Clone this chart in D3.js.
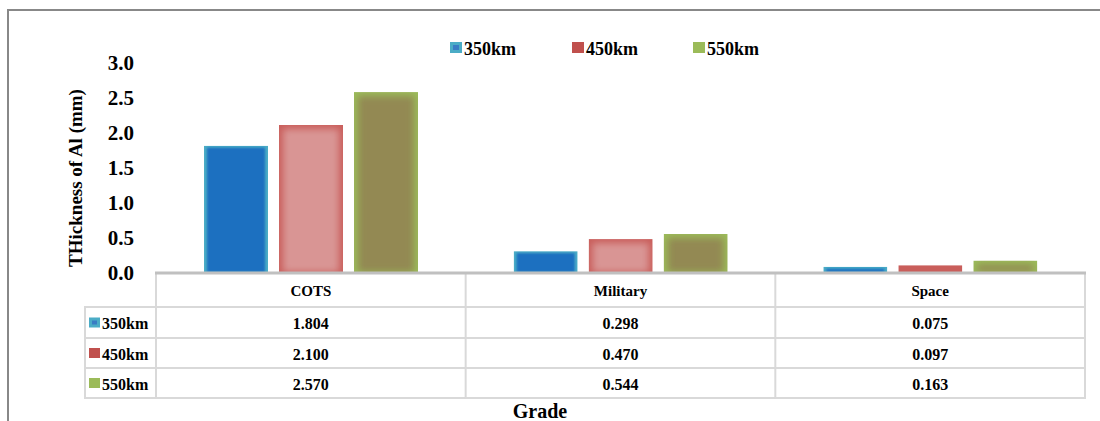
<!DOCTYPE html>
<html>
<head>
<meta charset="utf-8">
<script src="https://cdn.jsdelivr.net/npm/d3@7"></script>
<style>
  html, body { margin: 0; padding: 0; background: #fff; }
  svg { display: block; }
  svg text { font-family: "Liberation Serif", "DejaVu Serif", serif; font-weight: bold; }
</style>
</head>
<body>
<svg id="chart" width="1100" height="421" font-family="Liberation Serif, DejaVu Serif, serif" font-weight="bold"></svg>
<script>
// Aluminium shielding thickness by component grade and orbit altitude
const grades = ["COTS", "Military", "Space"];
const seriesNames = ["350km", "450km", "550km"];
const values350 = [1.804, 0.298, 0.075];
const values450 = [2.100, 0.470, 0.097];
const values550 = [2.570, 0.544, 0.163];
const yTicks = [0, 0.5, 1.0, 1.5, 2.0, 2.5, 3.0];

const seriesValues = [values350, values450, values550];
const FONT = "Liberation Serif, DejaVu Serif, serif";

// bar look: outer edge colour and a softer centre colour
const styles = {
  "350km": { edge: "#4bacc6", center: "#1a70c0", inset: [3, 2], blur: 1.2, key: "#4bacc6", keyIn: "#3a7cc4" },
  "450km": { edge: "#c95e5b", center: "#d99594", inset: [4, 4], blur: 3.5, key: "#c0504d" },
  "550km": { edge: "#9bbb59", center: "#938953", inset: [4, 4], blur: 3.5, key: "#9bbb59" }
};

const svg = d3.select("#chart");
const defs = svg.append("defs");

// frame
svg.append("line").attr("x1", 7).attr("x2", 1100).attr("y1", 10).attr("y2", 10)
  .attr("stroke", "#888").attr("stroke-width", 2);
svg.append("line").attr("x1", 8).attr("x2", 8).attr("y1", 9).attr("y2", 421)
  .attr("stroke", "#888").attr("stroke-width", 2);

const x0 = d3.scaleBand().domain(grades).range([156, 1085]);
const x1 = d3.scaleBand().domain(seriesNames).range([48, 262]).paddingInner(11 / 75);
const y = d3.scaleLinear().domain([0, 3]).range([272, 62]);

// y tick labels (no axis line)
const yAxis = d3.axisLeft(y).tickValues(yTicks).tickFormat(d3.format(".1f")).tickSize(0).tickPadding(0);
const gy = svg.append("g").attr("transform", "translate(134,0)").call(yAxis)
  .attr("font-family", FONT).attr("font-weight", "bold");
gy.select(".domain").remove();
gy.selectAll("text").attr("font-size", 21).attr("fill", "#000").attr("dy", "0.35em");

// y title
svg.append("text").attr("transform", "translate(82,178) rotate(-90)")
  .attr("text-anchor", "middle").attr("font-size", 19).text("THickness of Al (mm)");

// bars
seriesNames.forEach((s, i) => {
  const f = defs.append("filter").attr("id", "blur" + i)
    .attr("x", "-50%").attr("y", "-50%").attr("width", "200%").attr("height", "200%");
  f.append("feGaussianBlur").attr("stdDeviation", styles[s].blur);
});

const barData = [];
grades.forEach((g, gi) => {
  seriesNames.forEach((s, si) => {
    barData.push({ grade: g, series: s, si, value: seriesValues[si][gi] });
  });
});

const bars = svg.append("g").selectAll("g.bar").data(barData).join("g").attr("class", "bar");
bars.each(function (d, i) {
  const g = d3.select(this);
  const st = styles[d.series];
  const bx = x0(d.grade) + x1(d.series);
  const bw = x1.bandwidth();
  const by = y(d.value);
  const bh = y(0) - by;
  const cid = "clip" + i;
  defs.append("clipPath").attr("id", cid).append("rect")
    .attr("x", bx).attr("y", by).attr("width", bw).attr("height", bh);
  const inner = g.append("g").attr("clip-path", `url(#${cid})`);
  inner.append("rect").attr("x", bx).attr("y", by).attr("width", bw).attr("height", bh).attr("fill", st.edge);
  const ix = st.inset[0], iy = st.inset[1];
  if (bh > iy * 2 + 1) {
    inner.append("rect").attr("x", bx + ix).attr("y", by + iy)
      .attr("width", Math.max(0, bw - 2 * ix)).attr("height", Math.max(0, bh - iy))
      .attr("fill", st.center).attr("filter", `url(#blur${d.si})`);
  }
});

// top legend
const legendX = [450, 572, 693];
const legend = svg.append("g").selectAll("g").data(seriesNames).join("g")
  .attr("transform", (d, i) => `translate(${legendX[i]},42)`);
legend.append("rect").attr("width", 12).attr("height", 11).attr("fill", d => styles[d].key);
legend.filter(d => styles[d].keyIn).append("rect").attr("x", 3).attr("y", 3).attr("width", 6).attr("height", 5)
  .attr("fill", d => styles[d].keyIn);
legend.append("text").attr("x", 14).attr("y", 13).attr("font-size", 18).text(d => d);

// data table under the plot
const rowEdges = [273, 307, 338, 368, 398];
const tableLeft = 85, tableRight = x0.range()[1];
const colEdges = grades.map(g => x0(g)).concat([tableRight]);
const tbl = svg.append("g");
const lineColor = "#d9d9d9";

// horizontal rules
rowEdges.slice(1).forEach(ry => {
  tbl.append("line").attr("x1", tableLeft).attr("x2", tableRight).attr("y1", ry).attr("y2", ry)
    .attr("stroke", lineColor).attr("stroke-width", 2);
});
// vertical rules
colEdges.forEach(cx => {
  tbl.append("line").attr("x1", cx).attr("x2", cx)
    .attr("y1", rowEdges[0]).attr("y2", rowEdges[4] + 1)
    .attr("stroke", lineColor).attr("stroke-width", 2);
});
tbl.append("line").attr("x1", tableLeft).attr("x2", tableLeft).attr("y1", rowEdges[1] - 1).attr("y2", rowEdges[4] + 1)
  .attr("stroke", lineColor).attr("stroke-width", 2);

// category axis line along the top of the table
svg.append("line").attr("x1", x0.range()[0] - 1).attr("x2", tableRight + 1).attr("y1", 273).attr("y2", 273)
  .attr("stroke", "#c0c0c0").attr("stroke-width", 3);

// header row
tbl.selectAll("text.hdr").data(grades).join("text").attr("class", "hdr")
  .attr("x", d => x0(d) + x0.bandwidth() / 2).attr("y", (rowEdges[0] + rowEdges[1]) / 2 + 1)
  .attr("dy", "0.35em").attr("text-anchor", "middle").attr("font-size", 15).text(d => d);

// value rows
seriesNames.forEach((s, si) => {
  const cy = (rowEdges[si + 1] + rowEdges[si + 2]) / 2 + 1;
  tbl.selectAll("text.v" + si).data(seriesValues[si]).join("text").attr("class", "v" + si)
    .attr("x", (d, gi) => x0(grades[gi]) + x0.bandwidth() / 2).attr("y", cy)
    .attr("dy", "0.35em").attr("text-anchor", "middle").attr("font-size", 16)
    .text(d => d3.format(".3f")(d));
  const key = tbl.append("g").attr("transform", `translate(89,${cy - 6})`);
  key.append("rect").attr("width", 11).attr("height", 10).attr("fill", styles[s].key);
  if (styles[s].keyIn) key.append("rect").attr("x", 3).attr("y", 3).attr("width", 5).attr("height", 4).attr("fill", styles[s].keyIn);
  tbl.append("text").attr("x", 102).attr("y", cy).attr("dy", "0.35em").attr("font-size", 16).text(s);
});

// x title
svg.append("text").attr("x", 540).attr("y", 418).attr("text-anchor", "middle").attr("font-size", 20).text("Grade");
</script>
</body>
</html>
